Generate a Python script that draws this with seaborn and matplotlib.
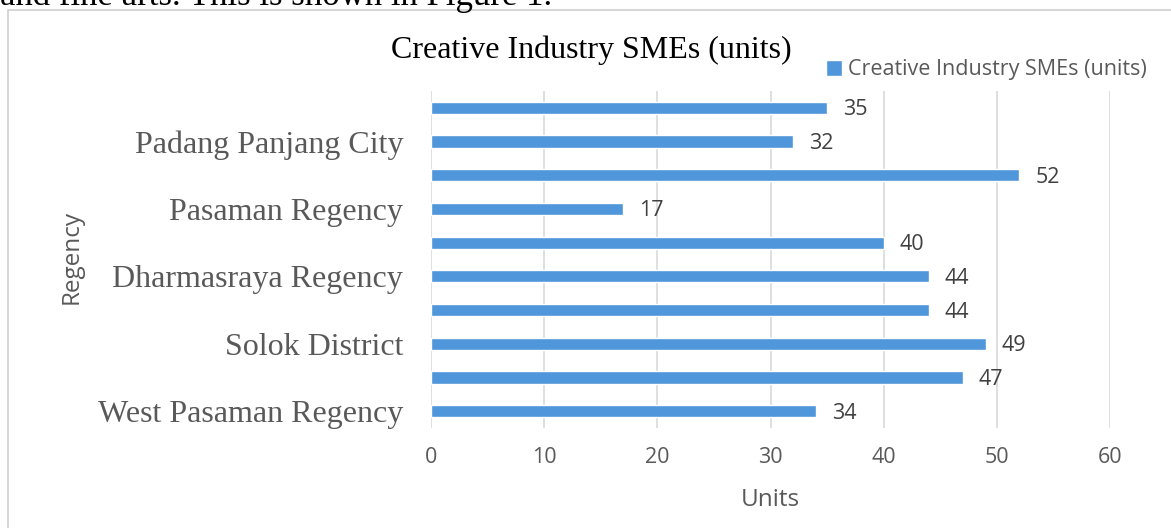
import pandas as pd
import matplotlib.pyplot as plt
import seaborn as sns
from matplotlib.patches import Rectangle

# ten regencies, only every other one is labelled on the axis
categories = ["r1", "r2", "r3", "r4", "r5", "r6", "r7", "r8", "r9", "r10"]
tick_labels = ["", "Padang Panjang City", "", "Pasaman Regency", "",
               "Dharmasraya Regency", "", "Solok District", "", "West Pasaman Regency"]
units = [35, 32, 52, 17, 40, 44, 44, 49, 47, 34]

df = pd.DataFrame({"Regency": categories, "Units": units})

sns.set_theme(style="white")
plt.rcParams['font.family'] = ['Open Sans', 'DejaVu Sans']

blue = "#4F96DA"
grey = "#595959"

fig = plt.figure(figsize=(11.71, 5.28), dpi=100)
ax = fig.add_axes([431 / 1171, 1 - 428 / 528, (1110 - 431) / 1171, (428 - 91) / 528])

sns.barplot(data=df, x="Units", y="Regency", orient="h", color=blue,
            width=0.36, ax=ax, saturation=1, label="Creative Industry SMEs (units)")

ax.set_xlim(0, 60)
ax.set_ylim(len(categories) - 0.5, -0.5)
ax.set_xticks(range(0, 61, 10))
ax.xaxis.grid(True, color="#d9d9d9", linewidth=1.2)
ax.set_axisbelow(True)
for s in ax.spines.values():
    s.set_visible(False)

ax.set_yticks(range(len(categories)))
ax.set_yticklabels(tick_labels, family="Liberation Serif", fontsize=23, color=grey)
ax.tick_params(axis="y", length=0, pad=20)
ax.tick_params(axis="x", length=0, pad=14, labelsize=15.5, labelcolor=grey)

for i, v in enumerate(units):
    ax.text(v + 1.4, i + 0.06, str(v), va="center", ha="left", fontsize=15.5, color="#404040")

ax.set_xlabel("Units", fontsize=17.5, color=grey, labelpad=14)
ax.set_ylabel("")
fig.text(72 / 1171, 1 - 257 / 528, "Regency", rotation=90, ha="center", va="center",
         fontsize=17.5, color=grey)

fig.text(591 / 1171, 1 - 50 / 528, "Creative Industry SMEs (units)", ha="center",
         va="center", family="Liberation Serif", fontsize=23, color="black")

leg = ax.legend(loc="center left", bbox_to_anchor=(815 / 1171, 1 - 70 / 528),
                bbox_transform=fig.transFigure, frameon=False, fontsize=15.5,
                handlelength=0.75, handleheight=0.75, handletextpad=0.3, borderpad=0)
for t in leg.get_texts():
    t.set_color(grey)

fig.add_artist(Rectangle((8 / 1171, -0.1), 1.2, 1 - 10 / 528 + 0.1,
                         transform=fig.transFigure, fill=False,
                         edgecolor="#d0d0d0", linewidth=1.2))
fig.text(0, 1 - 5 / 528, "and fine arts. This is shown in Figure 1.", ha="left",
         va="baseline", family="Liberation Serif", fontsize=25, color="black")

fig.savefig("out.png", dpi=100)
